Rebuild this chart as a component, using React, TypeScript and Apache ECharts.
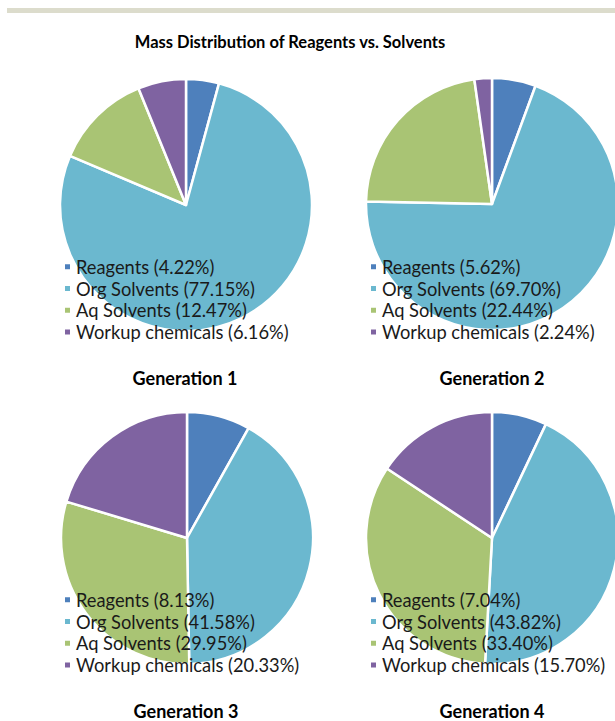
import React, { useEffect, useRef } from "react";
import * as echarts from "echarts";

const categories = ["Reagents", "Org Solvents", "Aq Solvents", "Workup chemicals"];
const generations = ["Generation 1", "Generation 2", "Generation 3", "Generation 4"];
const gen1 = [4.22, 77.15, 12.47, 6.16];
const gen2 = [5.62, 69.7, 22.44, 2.24];
const gen3 = [8.13, 41.58, 29.95, 20.33];
const gen4 = [7.04, 43.82, 33.4, 15.7];
const colors = ["#4E80BC", "#6BB8CF", "#A9C474", "#7F63A1"];
const title = "Mass Distribution of Reagents vs. Solvents";

export default function App() {
  const ref = useRef<HTMLDivElement>(null);
  useEffect(() => {
    if (!ref.current) return;
    const chart = echarts.init(ref.current, null, { renderer: "svg" });
    const all = [gen1, gen2, gen3, gen4];
    const centers = [
      [186, 205],
      [492, 204],
      [187, 538],
      [492, 538],
    ];
    const legendPos = [
      [63, 256],
      [369, 256],
      [63, 589],
      [369, 589],
    ];
    const labelPos = [
      [185, 378],
      [492, 378],
      [186, 711],
      [492, 711],
    ];
    const font = "Lato, 'Open Sans', sans-serif";
    const names = all.map((vals) => vals.map((v, i) => `${categories[i]} (${v.toFixed(2)}%)`));
    const series = all.map((vals, g) => ({
      type: "pie",
      center: centers[g],
      radius: 126,
      startAngle: 90,
      clockwise: true,
      label: { show: false },
      labelLine: { show: false },
      emphasis: { disabled: true },
      itemStyle: { borderColor: "#ffffff", borderWidth: 2.5 },
      data: vals.map((v, i) => ({
        name: names[g][i],
        value: v,
        itemStyle: { color: colors[i] },
      })),
    }));
    const legends = all.map((_, g) => ({
      orient: "vertical",
      left: legendPos[g][0],
      top: legendPos[g][1],
      padding: 0,
      itemGap: 0,
      itemWidth: 7,
      itemHeight: 7,
      icon: "rect",
      selectedMode: false,
      data: names[g],
      textStyle: {
        fontFamily: font,
        fontSize: 18.3,
        lineHeight: 21.7,
        color: "#1a1a1a",
      },
    }));
    const graphic: any[] = [
      {
        type: "rect",
        shape: { x: 7, y: 8, width: 610, height: 5 },
        style: { fill: "#dcdccc" },
        silent: true,
      },
      {
        type: "text",
        x: 290,
        y: 42,
        style: {
          text: title,
          fontFamily: font,
          fontSize: 16.5,
          fontWeight: "bold",
          fill: "#000",
          textAlign: "center",
          textVerticalAlign: "middle",
        },
      },
    ];
    generations.forEach((g, i) => {
      graphic.push({
        type: "text",
        x: labelPos[i][0],
        y: labelPos[i][1],
        style: {
          text: g,
          fontFamily: font,
          fontSize: 18,
          fontWeight: "bold",
          fill: "#000",
          textAlign: "center",
          textVerticalAlign: "middle",
        },
      });
    });
    chart.setOption({
      animation: false,
      backgroundColor: "#ffffff",
      legend: legends,
      series,
      graphic,
    });
    return () => chart.dispose();
  }, []);
  return (
    <div
      ref={ref}
      style={{ position: "fixed", left: 0, top: 0, width: 615, height: 721 }}
    />
  );
}
